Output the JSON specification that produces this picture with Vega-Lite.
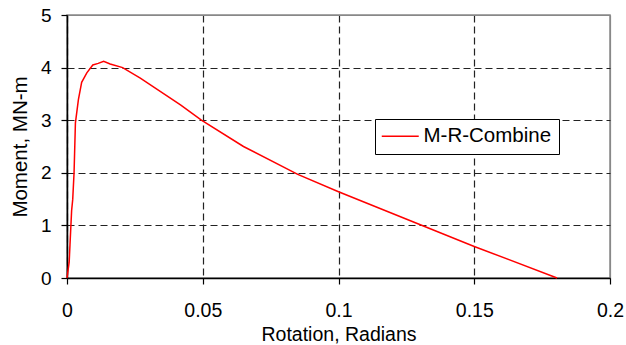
{
  "$schema": "https://vega.github.io/schema/vega-lite/v6.json",
  "width": 543,
  "height": 263,
  "autosize": {"type": "none"},
  "padding": {"left": 67, "top": 15, "right": 16, "bottom": 67},
  "background": "white",
  "config": {
    "font": "Liberation Sans",
    "view": {"stroke": "#888888", "strokeWidth": 1.5}
  },
  "data": {
    "values": [
      {"rot": 0.0, "m": 0.0, "s": "M-R-Combine"},
      {"rot": 0.0008, "m": 0.3, "s": "M-R-Combine"},
      {"rot": 0.0011, "m": 0.63, "s": "M-R-Combine"},
      {"rot": 0.0017, "m": 1.28, "s": "M-R-Combine"},
      {"rot": 0.0021, "m": 1.49, "s": "M-R-Combine"},
      {"rot": 0.0026, "m": 2.0, "s": "M-R-Combine"},
      {"rot": 0.0031, "m": 2.95, "s": "M-R-Combine"},
      {"rot": 0.0042, "m": 3.39, "s": "M-R-Combine"},
      {"rot": 0.0054, "m": 3.72, "s": "M-R-Combine"},
      {"rot": 0.0073, "m": 3.9, "s": "M-R-Combine"},
      {"rot": 0.0095, "m": 4.05, "s": "M-R-Combine"},
      {"rot": 0.0115, "m": 4.08, "s": "M-R-Combine"},
      {"rot": 0.0135, "m": 4.12, "s": "M-R-Combine"},
      {"rot": 0.0159, "m": 4.07, "s": "M-R-Combine"},
      {"rot": 0.0205, "m": 4.0, "s": "M-R-Combine"},
      {"rot": 0.027, "m": 3.8, "s": "M-R-Combine"},
      {"rot": 0.0418, "m": 3.29, "s": "M-R-Combine"},
      {"rot": 0.0495, "m": 3.0, "s": "M-R-Combine"},
      {"rot": 0.065, "m": 2.5, "s": "M-R-Combine"},
      {"rot": 0.085, "m": 1.97, "s": "M-R-Combine"},
      {"rot": 0.1, "m": 1.64, "s": "M-R-Combine"},
      {"rot": 0.15, "m": 0.6, "s": "M-R-Combine"},
      {"rot": 0.1805, "m": 0.0, "s": "M-R-Combine"}
    ]
  },
  "mark": {"type": "line", "strokeWidth": 1.5, "interpolate": "linear"},
  "encoding": {
    "x": {
      "field": "rot",
      "type": "quantitative",
      "scale": {"domain": [0, 0.2], "nice": false, "zero": true},
      "axis": {
        "values": [0, 0.05, 0.1, 0.15, 0.2],
        "format": "~g",
        "title": "Rotation, Radians",
        "titleFont": "Liberation Sans",
        "titleFontSize": 19.5,
        "titleFontWeight": "normal",
        "titleColor": "black",
        "titlePadding": 6,
        "labelFontSize": 19.5,
        "labelColor": "black",
        "labelPadding": 17,
        "labelFlush": false,
        "domainColor": "black",
        "domainWidth": 1.5,
        "tickColor": "black",
        "tickSize": 6,
        "tickWidth": 1.2,
        "grid": true,
        "gridColor": {"condition": {"test": "datum.value >= 0.199", "value": "#888888"}, "value": "#222222"},
        "gridDash": {"condition": {"test": "datum.value >= 0.199", "value": []}, "value": [7, 4]},
        "gridWidth": 1.2
      }
    },
    "y": {
      "field": "m",
      "type": "quantitative",
      "scale": {"domain": [0, 5], "nice": false},
      "axis": {
        "values": [0, 1, 2, 3, 4, 5],
        "title": "Moment, MN-m",
        "titleFont": "Liberation Sans",
        "titleFontSize": 20.5,
        "titleFontWeight": "normal",
        "titleColor": "black",
        "titlePadding": 10,
        "labelFontSize": 19,
        "labelColor": "black",
        "labelPadding": 10,
        "labelFlush": false,
        "domainColor": "black",
        "domainWidth": 1.5,
        "tickColor": "black",
        "tickSize": 6,
        "tickWidth": 1.2,
        "grid": true,
        "gridColor": {"condition": {"test": "datum.value >= 4.99", "value": "#888888"}, "value": "#222222"},
        "gridDash": {"condition": {"test": "datum.value >= 4.99", "value": []}, "value": [7, 4]},
        "gridWidth": 1.2
      }
    },
    "color": {
      "field": "s",
      "type": "nominal",
      "scale": {"range": ["#ff0000"]},
      "legend": {
        "title": null,
        "orient": "none",
        "legendX": 308,
        "legendY": 104,
        "symbolType": "M-2,0H2",
        "symbolSize": 342,
        "symbolStrokeWidth": 1.5,
        "symbolOffset": 8,
        "labelFontSize": 20.5,
        "labelColor": "black",
        "labelFont": "Liberation Sans",
        "strokeColor": "black",
        "fillColor": "white",
        "padding": 7,
        "labelOffset": 13
      }
    }
  }
}
